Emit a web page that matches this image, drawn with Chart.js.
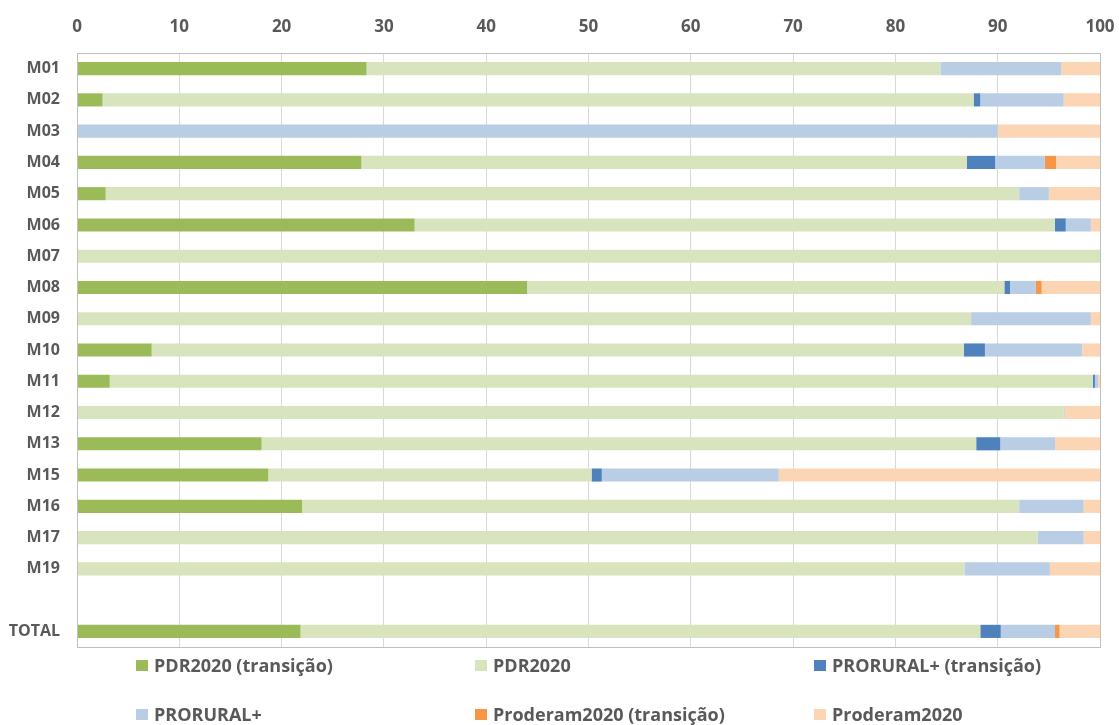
<!DOCTYPE html>
<html>
<head>
<meta charset="utf-8">
<script src="https://cdn.jsdelivr.net/npm/chart.js@4/dist/chart.umd.min.js"></script>
<style>
  html, body { margin: 0; padding: 0; background: #fff; }
  #wrap { position: relative; width: 1119px; height: 725px; }
  canvas { position: absolute; left: 0; top: 0; }
  .leg { position: absolute; font-family: "Open Sans", "Liberation Sans", sans-serif; font-weight: bold; font-size: 18px; color: #595959; white-space: nowrap; line-height: 20px; }
  .leg span.box { position: absolute; left: -18px; top: 5px; width: 12px; height: 11px; }
</style>
</head>
<body>
<div id="wrap">
  <canvas id="c" width="1119" height="725"></canvas>
  <div id="legend"></div>
</div>
<script>
const categories = ['M01','M02','M03','M04','M05','M06','M07','M08','M09','M10','M11','M12','M13','M15','M16','M17','M19','','TOTAL'];
const xTicks = [0,10,20,30,40,50,60,70,80,90,100];
const seriesNames = ['PDR2020 (transição)','PDR2020','PRORURAL+ (transição)','PRORURAL+','Proderam2020 (transição)','Proderam2020'];
const pdrTransicao      = [28.3, 2.5, 0, 27.8, 2.8, 33.0, 0, 44.0, 0, 7.3, 3.2, 0, 18.05, 18.7, 22.0, 0, 0, null, 21.85];
const pdr2020           = [56.1, 85.15, 0, 59.2, 89.3, 62.6, 100, 46.65, 87.4, 79.4, 96.1, 96.45, 69.85, 31.6, 70.1, 93.9, 86.75, null, 66.45];
const proruralTransicao = [0, 0.65, 0, 2.75, 0, 1.05, 0, 0.55, 0, 2.05, 0.2, 0, 2.35, 1.0, 0, 0, 0, null, 2.0];
const prorural          = [11.8, 8.15, 90, 4.85, 2.9, 2.45, 0, 2.5, 11.7, 9.5, 0.3, 0.1, 5.35, 17.3, 6.3, 4.5, 8.35, null, 5.3];
const proderamTransicao = [0, 0, 0, 1.1, 0, 0, 0, 0.6, 0, 0, 0, 0, 0, 0, 0, 0, 0, null, 0.45];
const proderam2020      = [3.8, 3.55, 10, 4.4, 5.0, 0.9, 0, 5.7, 0.9, 1.75, 0.2, 3.45, 4.4, 31.4, 1.6, 1.6, 4.9, null, 3.95];

const colors = ['#9BBB59','#D7E4BD','#4F81BD','#B9CDE5','#F79646','#FCD5B5'];
const seriesData = [pdrTransicao, pdr2020, proruralTransicao, prorural, proderamTransicao, proderam2020];

const datasets = seriesNames.map((n, i) => ({
  label: n,
  data: seriesData[i],
  backgroundColor: colors[i],
  borderWidth: 0,
  categoryPercentage: 1.0,
  barPercentage: 0.42
}));

const boxPlugin = {
  id: 'plotBox',
  afterDraw(chart) {
    const a = chart.chartArea, ctx = chart.ctx;
    ctx.save();
    ctx.strokeStyle = '#BFBFBF';
    ctx.lineWidth = 1;
    ctx.strokeRect(Math.round(a.left) + 0.5, Math.round(a.top) + 0.5, Math.round(a.right - a.left), Math.round(a.bottom - a.top));
    ctx.restore();
  }
};

Chart.defaults.font.family = '"Open Sans", "Liberation Sans", sans-serif';
Chart.defaults.color = '#595959';

new Chart(document.getElementById('c'), {
  type: 'bar',
  data: { labels: categories, datasets },
  options: {
    indexAxis: 'y',
    responsive: false,
    animation: false,
    layout: { padding: { left: 0, right: 19, top: 0, bottom: 78 } },
    plugins: { legend: { display: false }, tooltip: { enabled: false } },
    scales: {
      x: {
        position: 'top',
        stacked: true,
        min: 0, max: 100,
        afterBuildTicks(s) { s.ticks = xTicks.map(v => ({ value: v })); },
        ticks: { padding: 16, font: { size: 17, weight: 'bold' }, color: '#595959' },
        grid: { color: '#D9D9D9', drawTicks: false },
        border: { display: false },
        afterFit(s) { s.height = 53; s.paddingLeft = 0; s.paddingRight = 0; }
      },
      y: {
        stacked: true,
        ticks: { padding: 17, font: { size: 16, weight: 'bold' }, color: '#595959', autoSkip: false },
        grid: { display: false, drawTicks: false },
        border: { color: '#BFBFBF' },
        afterFit(s) { s.width = 77; }
      }
    }
  },
  plugins: [boxPlugin]
});

// Legend (3 columns x 2 rows)
const legendEl = document.getElementById('legend');
const colX = [154, 493, 832];
const rowY = [655, 704];
seriesNames.forEach((n, i) => {
  const d = document.createElement('div');
  d.className = 'leg';
  d.style.left = colX[i % 3] + 'px';
  d.style.top = rowY[Math.floor(i / 3)] + 'px';
  d.innerHTML = '<span class="box" style="background:' + colors[i] + '"></span>' + n;
  legendEl.appendChild(d);
});
</script>
</body>
</html>
